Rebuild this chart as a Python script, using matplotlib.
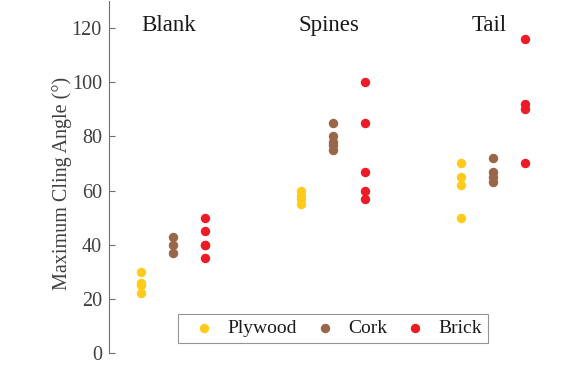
import matplotlib
matplotlib.use("Agg")
import matplotlib.pyplot as plt

plt.rcParams['font.family'] = ['Liberation Serif', 'DejaVu Serif']

# conditions and substrates
conditions = ["Blank", "Spines", "Tail"]
substrates = ["Plywood", "Cork", "Brick"]
colors = ["#FECB1B", "#9A6648", "#EC1C26"]

# maximum cling angle (deg) per condition, per substrate
blank = [[30, 26, 25, 22], [43, 40, 37], [50, 45, 40, 40, 35]]
spines = [[60, 58, 57, 55], [85, 80, 78, 77, 75], [100, 85, 67, 60, 57]]
tail = [[70, 65, 62, 50], [72, 67, 65, 63], [116, 92, 90, 70]]
groups = [blank, spines, tail]
offsets = [-0.2, 0.0, 0.2]

fig = plt.figure(figsize=(5.76, 3.68), dpi=100)
ax = fig.add_axes([0.189, 0.041, 0.778, 0.956])

for g, data in enumerate(groups):
    for s, vals in enumerate(data):
        ax.scatter([g + 1 + offsets[s]] * len(vals), vals, s=46, color=colors[s],
                   label=substrates[s] if g == 0 else None, zorder=3, linewidths=0)
    ax.text(g + 1 - 0.025, 121, conditions[g], ha='center', va='center', fontsize=16.5, color='#1a1a1a')

ax.set_xlim(0.6, 3.4)
ax.set_ylim(0, 130)
ax.set_yticks(range(0, 121, 20))
ax.set_xticks([])
for sp in ['top', 'right', 'bottom']:
    ax.spines[sp].set_visible(False)
ax.spines['left'].set_color('#6e6e6e')
ax.spines['left'].set_linewidth(0.8)
ax.tick_params(axis='y', direction='in', length=4, width=0.8, color='#6e6e6e',
               labelsize=14.5, labelcolor='#404040', pad=5)
ax.set_ylabel("Maximum Cling Angle (°)", fontsize=14.5, color='#404040', labelpad=0)
ax.yaxis.label.set_y(0.483)

leg = ax.legend(loc='center', bbox_to_anchor=(0.5, 0.07), ncol=3, fontsize=14,
                frameon=True, fancybox=False, edgecolor='#7a7a7a', handletextpad=0.17,
                columnspacing=0.4, borderpad=0.3, handlelength=2.06, markerscale=1.0)
leg.get_frame().set_linewidth(0.8)
for t in leg.get_texts():
    t.set_color('#1a1a1a')

fig.savefig("out.png", dpi=100)
